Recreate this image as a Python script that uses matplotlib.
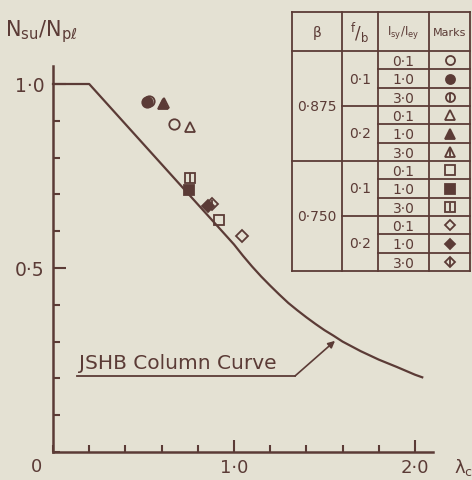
import matplotlib
matplotlib.use("Agg")
import matplotlib.pyplot as plt
from matplotlib.ticker import MultipleLocator

plt.rcParams['font.family'] = ['DejaVu Sans']
plt.rcParams['mathtext.default'] = 'regular'

BG = '#e4e1d3'
INK = '#5b3b36'

# JSHB column curve
curve_lam = [0.0, 0.2, 0.6, 1.0, 1.05, 1.1, 1.15, 1.2, 1.25, 1.3, 1.35, 1.4, 1.45,
             1.5, 1.55, 1.6, 1.7, 1.8, 1.9, 2.0, 2.04]
curve_n = [1.0, 1.0, 0.782, 0.564, 0.533, 0.504, 0.477, 0.452, 0.428, 0.405, 0.385,
           0.366, 0.348, 0.331, 0.316, 0.300, 0.274, 0.251, 0.231, 0.210, 0.203]

# table groups
betas = ['0·875', '0·750']
fbs = ['0·1', '0·2']
ratios = ['0·1', '1·0', '3·0']
shapes = ['o', '^', 's', 'D']          # one per (beta, f/b) group
styles = ['open', 'filled', 'line']     # one per ratio

# test points in table order
pt_lam = [0.669, 0.522, 0.530,
          0.757, 0.605, 0.612,
          0.917, 0.754, 0.757,
          1.044, 0.856, 0.880]
pt_n = [0.891, 0.951, 0.953,
        0.883, 0.946, 0.948,
        0.630, 0.711, 0.745,
        0.587, 0.668, 0.675]

W, H = 472, 481
fig = plt.figure(figsize=(W / 100, H / 100), dpi=100, facecolor=BG)

# main axes: x=0 at px 53, 181 px/unit; y=0 at px 453, 368 px/unit
x0, y0 = 53, 453
xmax, ymax = 2.1, 1.05
ax = fig.add_axes([x0 / W, (H - y0) / H, xmax * 181 / W, ymax * 368 / H])
ax.set_facecolor('none')
ax.set_xlim(0, xmax)
ax.set_ylim(0, ymax)
for s in ['top', 'right']:
    ax.spines[s].set_visible(False)
for s in ['left', 'bottom']:
    ax.spines[s].set_color(INK)
    ax.spines[s].set_linewidth(1.8)

ax.xaxis.set_major_locator(MultipleLocator(1.0))
ax.xaxis.set_minor_locator(MultipleLocator(0.2))
ax.yaxis.set_major_locator(MultipleLocator(0.5))
ax.yaxis.set_minor_locator(MultipleLocator(0.1))
ax.tick_params(which='both', direction='in', color=INK, width=1.5)
ax.tick_params(which='major', length=9)
ax.tick_params(which='minor', length=5)
ax.tick_params(axis='x', labelsize=13, labelcolor=INK, pad=4)
ax.tick_params(axis='y', labelsize=13.5, labelcolor=INK, pad=6)
ax.set_xticks([1.0, 2.0])
ax.set_xticklabels(['1·0', '2·0'])
ax.set_yticks([0.5, 1.0])
ax.set_yticklabels(['0·5', '1·0'])

ax.plot(curve_lam, curve_n, color=INK, lw=1.6, clip_on=False)


def draw_mark(a, x, y, shape, style, size, **kw):
    if style == 'filled':
        a.plot([x], [y], marker=shape, ms=size, mfc=INK, mec=INK, mew=1.3,
               ls='none', clip_on=False, **kw)
    else:
        a.plot([x], [y], marker=shape, ms=size, mfc='none', mec=INK, mew=1.3,
               ls='none', clip_on=False, **kw)
        if style == 'line':
            a.plot([x], [y], marker='|', ms=size * 0.95, mec=INK, mew=1.3,
                   ls='none', clip_on=False, **kw)


k = 0
for g, shape in enumerate(shapes):
    for st in styles:
        sz = 6.5 if shape == 'D' else 7.5
        draw_mark(ax, pt_lam[k], pt_n[k], shape, st, sz)
        k += 1

# overlay in pixel coordinates for text and table
ov = fig.add_axes([0, 0, 1, 1])
ov.set_xlim(0, W)
ov.set_ylim(H, 0)
ov.axis('off')
ov.patch.set_alpha(0)

ov.text(5, 32, r'$N_{su}/N_{p\ell}$', fontsize=15, color=INK, va='center', ha='left')
ov.text(36, 467, '0', fontsize=13, color=INK, va='center', ha='center')
ov.text(454, 468, r'$\lambda_{c}$', fontsize=13, color=INK, va='center', ha='left')

# column curve label with leader
ov.text(79, 364, 'JSHB Column Curve', fontsize=14.5, color=INK, va='center', ha='left')
ov.plot([77, 295], [377, 377], color=INK, lw=1.3)
ov.annotate('', xy=(1.558, 0.302), xycoords=ax.transData,
            xytext=(295, 377), textcoords=ov.transData,
            arrowprops=dict(arrowstyle='-|>', color=INK, lw=1.2,
                            mutation_scale=10, shrinkA=0, shrinkB=0))

# table
cx = [292, 342, 378, 429, 470]
ty, hy = 13, 52
rh = (272 - hy) / 12
lw_t = 1.3


def hline(y, xa, xb):
    ov.plot([xa, xb], [y, y], color=INK, lw=lw_t)


def vline(x, ya, yb):
    ov.plot([x, x], [ya, yb], color=INK, lw=lw_t)


ybot = hy + rh * 12
for x in cx:
    vline(x, ty, ybot)
hline(ty, cx[0], cx[-1])
hline(hy, cx[0], cx[-1])
hline(ybot, cx[0], cx[-1])

hdr_y = (ty + hy) / 2
ov.text((cx[0] + cx[1]) / 2, hdr_y, r'$\beta$', fontsize=10, color=INK, ha='center', va='center')
ov.text((cx[1] + cx[2]) / 2, hdr_y, r'$^{f}/_{b}$', fontsize=12, color=INK, ha='center', va='center')
ov.text((cx[2] + cx[3]) / 2, hdr_y, r'$I_{sy}/I_{ey}$', fontsize=8.5, color=INK, ha='center', va='center')
ov.text((cx[3] + cx[4]) / 2, hdr_y, 'Marks', fontsize=8, color=INK, ha='center', va='center')

row = 0
for bi, b in enumerate(betas):
    yb0 = hy + rh * row
    ov.text((cx[0] + cx[1]) / 2, yb0 + rh * 3, b, fontsize=10, color=INK, ha='center', va='center')
    if bi > 0:
        hline(yb0, cx[0], cx[-1])
    for fi, f in enumerate(fbs):
        yf0 = hy + rh * row
        ov.text((cx[1] + cx[2]) / 2, yf0 + rh * 1.5, f, fontsize=10, color=INK, ha='center', va='center')
        if fi > 0:
            hline(yf0, cx[1], cx[-1])
        shape = shapes[bi * 2 + fi]
        for ri, r in enumerate(ratios):
            yr0 = hy + rh * row
            if ri > 0:
                hline(yr0, cx[2], cx[-1])
            yc = yr0 + rh / 2
            ov.text((cx[2] + cx[3]) / 2, yc + 1, r, fontsize=10, color=INK, ha='center', va='center')
            sz = 5.5 if shape == 'D' else 6.5
            draw_mark(ov, (cx[3] + cx[4]) / 2, yc, shape, styles[ri], sz)
            row += 1

fig.savefig('out.png', dpi=100, facecolor=BG)
